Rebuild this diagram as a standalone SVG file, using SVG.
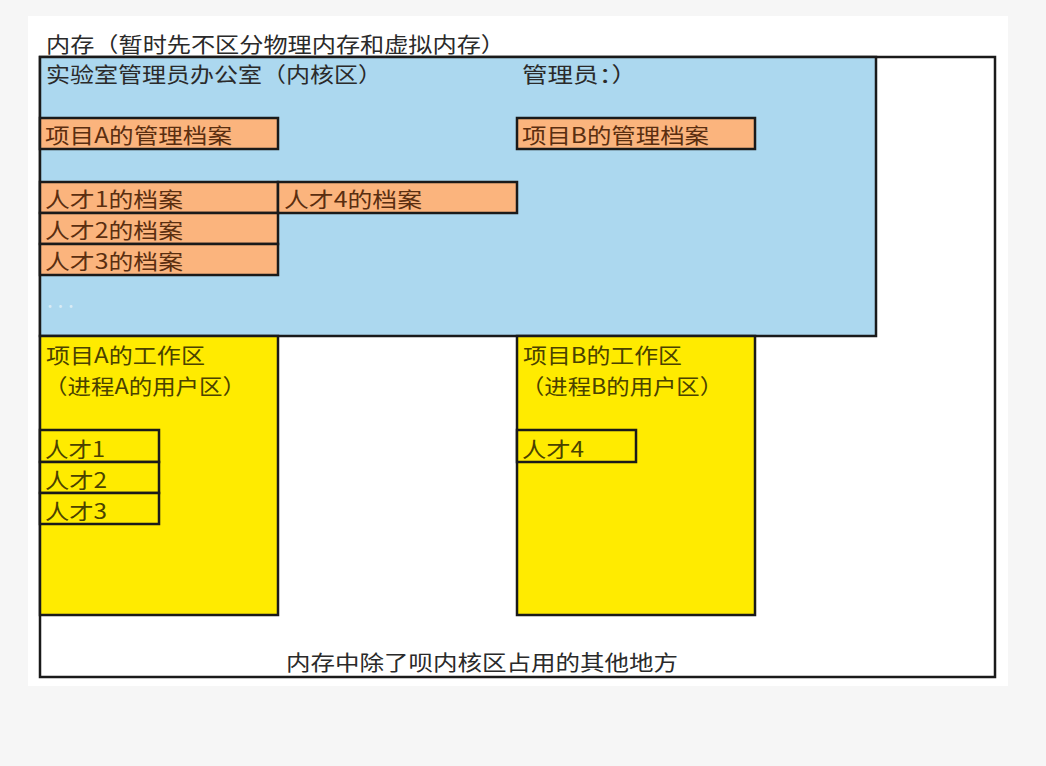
<svg xmlns="http://www.w3.org/2000/svg" width="1046" height="766" viewBox="0 0 1046 766">
<style>
text{font-family:"Noto Sans CJK SC","Noto Sans",sans-serif;font-size:21px}
.t{fill:#2a2a2a}
.o{fill:#fbb47d;stroke:#1a1a1a;stroke-width:2.5}
.ot{fill:#5a2e10}
.y{fill:#ffeb00;stroke:#1a1a1a;stroke-width:2.5}
.yt{fill:#4a4200}
</style>
<rect x="0" y="0" width="1046" height="766" fill="#f6f6f6"/>
<rect x="28" y="16" width="980" height="670" fill="#ffffff"/>
<g id="title"><text class="t" x="46" y="52" textLength="459" lengthAdjust="spacingAndGlyphs">内存（暂时先不区分物理内存和虚拟内存）</text></g>
<g id="memory"><rect x="40" y="57" width="955" height="620" fill="#ffffff" stroke="#1a1a1a" stroke-width="2.5"/>
<text class="t" x="286" y="670" textLength="392" lengthAdjust="spacingAndGlyphs">内存中除了呗内核区占用的其他地方</text></g>
<g id="kernel"><rect x="40" y="57" width="836" height="279" fill="#acd8ef" stroke="#1a1a1a" stroke-width="2.5"/>
<text class="t" x="46" y="82" textLength="336" lengthAdjust="spacingAndGlyphs">实验室管理员办公室（内核区）</text>
<text class="t" x="522" y="82" textLength="115" lengthAdjust="spacingAndGlyphs">管理员：）</text>
<text x="47" y="308" fill="#d8ecf6" font-size="14">. . .</text></g>
<g id="mgmtA"><rect class="o" x="40" y="118" width="238" height="31"/><text class="ot" x="45" y="143" textLength="187" lengthAdjust="spacingAndGlyphs">项目A的管理档案</text></g>
<g id="mgmtB"><rect class="o" x="517" y="118" width="238" height="31"/><text class="ot" x="522" y="143" textLength="187" lengthAdjust="spacingAndGlyphs">项目B的管理档案</text></g>
<g id="file1"><rect class="o" x="40" y="182" width="238" height="31"/><text class="ot" x="45" y="207" textLength="138" lengthAdjust="spacingAndGlyphs">人才1的档案</text></g>
<g id="file4"><rect class="o" x="278" y="182" width="239" height="31"/><text class="ot" x="284" y="207" textLength="138" lengthAdjust="spacingAndGlyphs">人才4的档案</text></g>
<g id="file2"><rect class="o" x="40" y="213" width="238" height="31"/><text class="ot" x="45" y="238" textLength="138" lengthAdjust="spacingAndGlyphs">人才2的档案</text></g>
<g id="file3"><rect class="o" x="40" y="244" width="238" height="31"/><text class="ot" x="45" y="269" textLength="138" lengthAdjust="spacingAndGlyphs">人才3的档案</text></g>
<g id="workA"><rect class="y" x="40" y="336" width="238" height="279"/>
<text class="yt" x="46" y="363" textLength="159" lengthAdjust="spacingAndGlyphs">项目A的工作区</text>
<text class="yt" x="44" y="394" textLength="202" lengthAdjust="spacingAndGlyphs">（进程A的用户区）</text></g>
<g id="workB"><rect class="y" x="517" y="336" width="238" height="279"/>
<text class="yt" x="523" y="363" textLength="159" lengthAdjust="spacingAndGlyphs">项目B的工作区</text>
<text class="yt" x="521" y="394" textLength="202" lengthAdjust="spacingAndGlyphs">（进程B的用户区）</text></g>
<g id="talent1"><rect class="y" x="40" y="430" width="119" height="32"/><text class="yt" x="45" y="457" textLength="60" lengthAdjust="spacingAndGlyphs">人才1</text></g>
<g id="talent2"><rect class="y" x="40" y="462" width="119" height="31"/><text class="yt" x="45" y="488" textLength="62" lengthAdjust="spacingAndGlyphs">人才2</text></g>
<g id="talent3"><rect class="y" x="40" y="493" width="119" height="31"/><text class="yt" x="45" y="519" textLength="62" lengthAdjust="spacingAndGlyphs">人才3</text></g>
<g id="talent4"><rect class="y" x="517" y="430" width="119" height="32"/><text class="yt" x="522" y="457" textLength="62" lengthAdjust="spacingAndGlyphs">人才4</text></g>
<g id="connectors"></g>
</svg>
